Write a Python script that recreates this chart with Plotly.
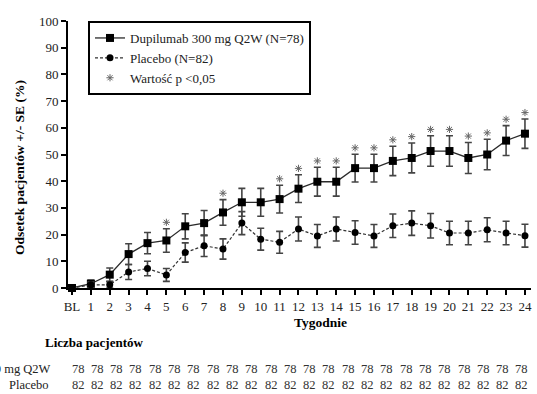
import plotly.graph_objects as go

# ---- data ----
weeks = list(range(25))
week_labels = ["BL"] + [str(i) for i in range(1, 25)]
dupi = [0, 1.6, 5.0, 12.7, 16.8, 17.8, 23.1, 24.3, 28.3, 32.1, 32.1, 33.3, 37.2, 39.8, 39.8,
        44.9, 44.9, 47.6, 48.7, 51.3, 51.3, 48.7, 50.0, 55.2, 57.8]
dupi_se = [0, 1.4, 2.5, 3.9, 4.0, 4.4, 4.7, 4.7, 4.8, 5.2, 5.2, 5.2, 5.2, 5.4, 5.4,
           5.2, 5.2, 5.5, 5.6, 5.7, 5.7, 5.8, 5.7, 5.6, 5.5]
placebo = [0, 1.2, 1.2, 6.0, 7.3, 4.9, 13.3, 15.8, 14.6, 24.3, 18.3, 17.1, 22.1, 19.5, 22.1,
           20.8, 19.5, 23.3, 24.3, 23.3, 20.6, 20.6, 21.8, 20.6, 19.6]
placebo_se = [0, 1.0, 1.2, 2.8, 2.7, 2.4, 3.6, 4.0, 3.8, 4.3, 4.1, 4.1, 4.5, 4.3, 4.5,
              4.4, 4.3, 4.4, 4.6, 4.6, 4.4, 4.4, 4.5, 4.4, 4.3]
sig_weeks = [5, 8, 11, 12, 13, 14, 15, 16, 17, 18, 19, 20, 21, 22, 23, 24]
n_dupi = [78, 78, 78, 78, 78, 78, 78, 78, 78, 78, 78, 78, 78, 78, 78, 78, 78, 78, 78, 78, 78, 78, 78, 78]
n_placebo = [82, 82, 82, 82, 82, 82, 82, 82, 82, 82, 82, 82, 82, 82, 82, 82, 82, 82, 82, 82, 82, 82, 82, 82]

W, H = 537, 394
L, R, T, B = 68, 6, 21, 106
PW, PH = W - L - R, H - T - B
FONT = "Liberation Serif, Times New Roman, serif"

def px_x(p):
    return (p - L) / PW

def px_y(p):
    return (H - B - p) / PH

fig = go.Figure()

fig.add_trace(go.Scatter(
    x=weeks, y=dupi, name="Dupilumab 300 mg Q2W (N=78)", mode="lines+markers",
    line=dict(color="#2a2a2a", width=1.3),
    marker=dict(symbol="square", size=8, color="black"),
    error_y=dict(type="data", array=dupi_se, color="#444444", thickness=1.6, width=3.5),
    cliponaxis=False,
))
fig.add_trace(go.Scatter(
    x=weeks, y=placebo, name="Placebo (N=82)", mode="lines+markers",
    line=dict(color="#333333", width=1.2, dash="3px,2px"),
    marker=dict(symbol="circle", size=7, color="black"),
    error_y=dict(type="data", array=placebo_se, color="#444444", thickness=1.6, width=3.5),
    cliponaxis=False,
))
sig_y = [dupi[w] + dupi_se[w] + 2.4 for w in sig_weeks]
fig.add_trace(go.Scatter(
    x=sig_weeks, y=sig_y, name="Wartość p <0,05", mode="markers",
    marker=dict(symbol="asterisk-open", size=6, color="#666666", line=dict(color="#666666", width=1)),
    cliponaxis=False,
))

axis_common = dict(
    showline=True, linecolor="black", linewidth=2, ticks="outside", ticklen=5,
    tickwidth=2, tickcolor="black", showgrid=False, zeroline=False,
    tickfont=dict(family=FONT, size=13, color="#222222"),
)
fig.update_xaxes(range=[-0.212, 24.32], tickvals=weeks, ticktext=week_labels, **axis_common)
fig.update_yaxes(range=[0, 100], tickvals=list(range(0, 101, 10)), **axis_common)

ann = []
ann.append(dict(text="<b>Odsetek pacjentów +/- SE (%)</b>", xref="paper", yref="paper",
                x=px_x(19), y=px_y(168), textangle=-90, showarrow=False,
                font=dict(family=FONT, size=13.5, color="black"), xanchor="center", yanchor="middle"))
ann.append(dict(text="<b>Tygodnie</b>", xref="paper", yref="paper", x=px_x(320), y=px_y(322),
                showarrow=False, font=dict(family=FONT, size=13.5, color="black"),
                xanchor="center", yanchor="middle"))
ann.append(dict(text="<b>Liczba pacjentów</b>", xref="paper", yref="paper", x=px_x(43), y=px_y(342),
                showarrow=False, font=dict(family=FONT, size=13, color="black"),
                xanchor="left", yanchor="middle"))
ann.append(dict(text="Dupilumab 300 mg Q2W", xref="paper", yref="paper", x=px_x(53), y=px_y(369),
                showarrow=False, font=dict(family=FONT, size=12.5, color="#222222"),
                xanchor="right", yanchor="middle"))
ann.append(dict(text="Placebo", xref="paper", yref="paper", x=px_x(51), y=px_y(385),
                showarrow=False, font=dict(family=FONT, size=12.5, color="#222222"),
                xanchor="right", yanchor="middle"))
for i, (a, b) in enumerate(zip(n_dupi, n_placebo)):
    xp = px_x(78 + i * 19.3)
    ann.append(dict(text=str(a), xref="paper", yref="paper", x=xp, y=px_y(369), showarrow=False,
                    font=dict(family=FONT, size=12.5, color="#333333"), xanchor="center", yanchor="middle"))
    ann.append(dict(text=str(b), xref="paper", yref="paper", x=xp, y=px_y(385), showarrow=False,
                    font=dict(family=FONT, size=12.5, color="#333333"), xanchor="center", yanchor="middle"))

fig.update_layout(
    width=W, height=H, margin=dict(l=L, r=R, t=T, b=B),
    paper_bgcolor="white", plot_bgcolor="white",
    font=dict(family=FONT, size=12, color="#222222"),
    showlegend=True,
    legend=dict(x=px_x(88), y=1, xanchor="left", yanchor="top", bordercolor="black", borderwidth=2,
                bgcolor="white", font=dict(family=FONT, size=13, color="#222222"),
                tracegroupgap=0, itemwidth=30),
    annotations=ann,
)

fig.write_html("out.html")
